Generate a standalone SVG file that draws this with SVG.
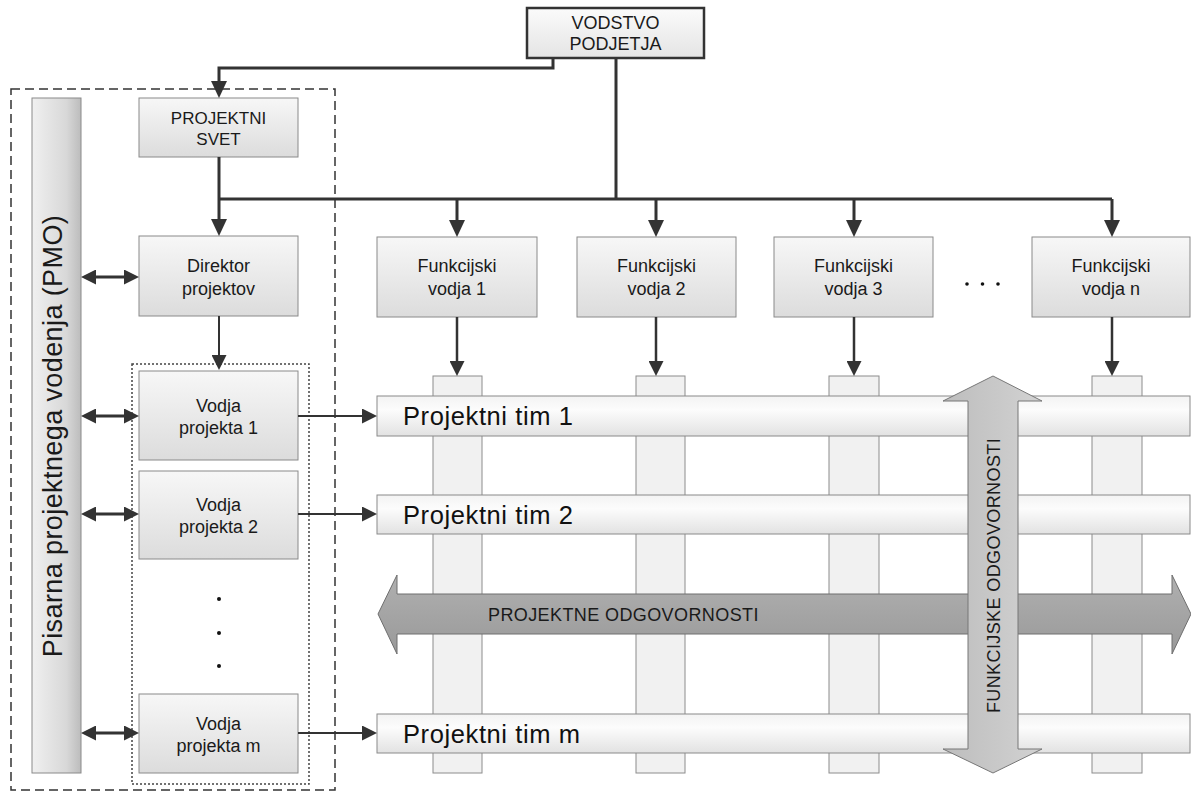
<svg xmlns="http://www.w3.org/2000/svg" width="1191" height="794" viewBox="0 0 1191 794">
  <defs>
    <linearGradient id="gBox" x1="0" y1="0" x2="0" y2="1">
      <stop offset="0" stop-color="#f7f7f7"/>
      <stop offset="1" stop-color="#dcdcdc"/>
    </linearGradient>
    <linearGradient id="gTop" x1="0" y1="0" x2="0" y2="1">
      <stop offset="0" stop-color="#fbfbfb"/>
      <stop offset="1" stop-color="#e4e4e4"/>
    </linearGradient>
    <linearGradient id="gPmo" x1="0" y1="0" x2="1" y2="0">
      <stop offset="0" stop-color="#f0f0f0"/>
      <stop offset="0.7" stop-color="#d8d8d8"/>
      <stop offset="1" stop-color="#bcbcbc"/>
    </linearGradient>
    <linearGradient id="gTeam" x1="0" y1="0" x2="0" y2="1">
      <stop offset="0" stop-color="#f3f3f3"/>
      <stop offset="0.35" stop-color="#fcfcfc"/>
      <stop offset="1" stop-color="#e2e2e2"/>
    </linearGradient>
    <linearGradient id="gProj" x1="0" y1="0" x2="0" y2="1">
      <stop offset="0" stop-color="#b0b0b0"/>
      <stop offset="1" stop-color="#999999"/>
    </linearGradient>
    <linearGradient id="gFunc" x1="0" y1="0" x2="1" y2="0">
      <stop offset="0" stop-color="#bdbdbd"/>
      <stop offset="1" stop-color="#d2d2d2"/>
    </linearGradient>
    <marker id="ahBig" viewBox="0 0 17 16" refX="12" refY="8" markerWidth="17" markerHeight="16" markerUnits="userSpaceOnUse" orient="auto">
      <path d="M0,0 L17,8 L0,16 z" fill="#333"/>
    </marker>
    <marker id="ah" viewBox="0 0 15 15" refX="10" refY="7.5" markerWidth="15" markerHeight="15" markerUnits="userSpaceOnUse" orient="auto-start-reverse">
      <path d="M0,0 L15,7.5 L0,15 z" fill="#333"/>
    </marker>
    <style>
      .box { fill: url(#gBox); stroke: #8a8a8a; stroke-width: 1; }
      .lbl { font-family: "Liberation Sans", Arial, sans-serif; font-size: 18px; fill: #1a1a1a; text-anchor: middle; }
      .team { fill: url(#gTeam); stroke: #8a8a8a; stroke-width: 1; }
      .teamTxt { font-family: "Liberation Sans", Arial, sans-serif; font-size: 25.5px; letter-spacing: 0.6px; fill: #111; }
      .col { fill: #f1f1f1; stroke: #8c8c8c; stroke-width: 1; }
      .thick { fill: none; stroke: #333; stroke-width: 3; }
      .thin { fill: none; stroke: #333; stroke-width: 2.5; }
      .link { fill: none; stroke: #333; stroke-width: 2; }
      .dot { fill: #111; }
    </style>
  </defs>

  <rect width="1191" height="794" fill="#ffffff"/>

  <!-- PMO frame and project manager group -->
  <rect id="pmo-frame" x="11" y="89" width="324" height="701" fill="none" stroke="#333" stroke-width="1.5" stroke-dasharray="9 5"/>
  <rect id="pm-group" x="132" y="364" width="177" height="420" fill="none" stroke="#444" stroke-width="1.5" stroke-dasharray="2 2"/>

  <g id="pmo">
    <rect x="32" y="98" width="49" height="675" fill="url(#gPmo)" stroke="#8a8a8a" stroke-width="1"/>
    <text transform="translate(62,436) rotate(-90)" font-family="'Liberation Sans', Arial, sans-serif" font-size="27" letter-spacing="0.4" fill="#1a1a1a" text-anchor="middle">Pisarna projektnega vodenja (PMO)</text>
  </g>

  <!-- functional columns -->
  <g id="columns">
    <rect class="col" x="433" y="376" width="49" height="397"/>
    <rect class="col" x="636" y="376" width="49" height="397"/>
    <rect class="col" x="829" y="376" width="50" height="397"/>
    <rect class="col" x="1092" y="376" width="50" height="397"/>
  </g>

  <!-- project team bars -->
  <g id="team-1">
    <rect class="team" x="377" y="396" width="813" height="40"/>
    <text class="teamTxt" x="403" y="425">Projektni tim 1</text>
  </g>
  <g id="team-2">
    <rect class="team" x="377" y="495" width="813" height="39"/>
    <text class="teamTxt" x="403" y="524">Projektni tim 2</text>
  </g>
  <g id="team-m">
    <rect class="team" x="377" y="714" width="813" height="39"/>
    <text class="teamTxt" x="403" y="743">Projektni tim m</text>
  </g>

  <!-- horizontal responsibility arrow -->
  <g id="project-responsibility">
    <polygon points="378,614 397,575 397,594 1172,594 1172,575 1191,614 1172,654 1172,634 397,634 397,654" fill="url(#gProj)" stroke="#6e6e6e" stroke-width="1"/>
    <text x="488" y="621" font-family="'Liberation Sans', Arial, sans-serif" font-size="18" letter-spacing="0.4" fill="#1a1a1a">PROJEKTNE ODGOVORNOSTI</text>
  </g>

  <!-- vertical responsibility arrow -->
  <g id="functional-responsibility">
    <polygon points="993,376 1042,401 1018,401 1018,749 1042,749 993,773 943,749 968,749 968,401 943,401" fill="url(#gFunc)" stroke="#777" stroke-width="1"/>
    <text transform="translate(1000,575.5) rotate(-90)" font-family="'Liberation Sans', Arial, sans-serif" font-size="18" letter-spacing="0.4" fill="#1a1a1a" text-anchor="middle">FUNKCIJSKE ODGOVORNOSTI</text>
  </g>

  <!-- nodes -->
  <g id="vodstvo">
    <rect x="527" y="8" width="177" height="50" fill="url(#gTop)" stroke="#333" stroke-width="2.5"/>
    <text class="lbl" x="615.5" y="28.5" font-size="17">VODSTVO</text>
    <text class="lbl" x="615.5" y="50" font-size="17">PODJETJA</text>
  </g>
  <g id="projektni-svet">
    <rect class="box" x="139" y="98" width="159" height="59"/>
    <text class="lbl" x="218.5" y="123.5" style="font-size:17px">PROJEKTNI</text>
    <text class="lbl" x="218.5" y="145" style="font-size:17px">SVET</text>
  </g>
  <g id="direktor">
    <rect class="box" x="139" y="236" width="159" height="80"/>
    <text class="lbl" x="218.5" y="272">Direktor</text>
    <text class="lbl" x="218.5" y="295">projektov</text>
  </g>
  <g id="fv-1">
    <rect class="box" x="377" y="237" width="160" height="80"/>
    <text class="lbl" x="457" y="272">Funkcijski</text>
    <text class="lbl" x="457" y="294.5">vodja 1</text>
  </g>
  <g id="fv-2">
    <rect class="box" x="577" y="237" width="159" height="80"/>
    <text class="lbl" x="656.5" y="272">Funkcijski</text>
    <text class="lbl" x="656.5" y="294.5">vodja 2</text>
  </g>
  <g id="fv-3">
    <rect class="box" x="774" y="237" width="159" height="80"/>
    <text class="lbl" x="853.5" y="272">Funkcijski</text>
    <text class="lbl" x="853.5" y="294.5">vodja 3</text>
  </g>
  <g id="fv-n">
    <rect class="box" x="1032" y="237" width="158" height="80"/>
    <text class="lbl" x="1111" y="272">Funkcijski</text>
    <text class="lbl" x="1111" y="294.5">vodja n</text>
  </g>
  <g id="fv-more">
    <circle class="dot" cx="967" cy="284" r="1.8"/>
    <circle class="dot" cx="982.5" cy="284" r="1.8"/>
    <circle class="dot" cx="998" cy="284" r="1.8"/>
  </g>
  <g id="vp-1">
    <rect class="box" x="139" y="371" width="159" height="89"/>
    <text class="lbl" x="218.5" y="411.5">Vodja</text>
    <text class="lbl" x="218.5" y="434">projekta 1</text>
  </g>
  <g id="vp-2">
    <rect class="box" x="139" y="471" width="159" height="88"/>
    <text class="lbl" x="218.5" y="510.5">Vodja</text>
    <text class="lbl" x="218.5" y="533">projekta 2</text>
  </g>
  <g id="vp-more">
    <circle class="dot" cx="219" cy="599" r="2"/>
    <circle class="dot" cx="219" cy="633" r="2"/>
    <circle class="dot" cx="219" cy="666" r="2"/>
  </g>
  <g id="vp-m">
    <rect class="box" x="139" y="694" width="159" height="79"/>
    <text class="lbl" x="218.5" y="729.5">Vodja</text>
    <text class="lbl" x="218.5" y="752">projekta m</text>
  </g>

  <!-- connectors -->
  <g id="connectors">
    <path class="thick" d="M553,58 V68 H219 V93" marker-end="url(#ahBig)"/>
    <path class="thick" d="M616,58 V199"/>
    <path class="thick" d="M219,199 H1112"/>
    <path class="thick" d="M219,157 V231" marker-end="url(#ahBig)"/>
    <path class="thick" d="M457,199 V232" marker-end="url(#ahBig)"/>
    <path class="thick" d="M656,199 V232" marker-end="url(#ahBig)"/>
    <path class="thick" d="M854,199 V232" marker-end="url(#ahBig)"/>
    <path class="thick" d="M1112,199 V232" marker-end="url(#ahBig)"/>

    <path class="thin" d="M457,317 V371" marker-end="url(#ah)"/>
    <path class="thin" d="M656,317 V371" marker-end="url(#ah)"/>
    <path class="thin" d="M854,317 V371" marker-end="url(#ah)"/>
    <path class="thin" d="M1112,317 V371" marker-end="url(#ah)"/>

    <path class="link" d="M219,316 V365" marker-end="url(#ah)"/>

    <path class="thick" d="M86,277 H134" marker-start="url(#ah)" marker-end="url(#ah)"/>
    <path class="thick" d="M86,416 H134" marker-start="url(#ah)" marker-end="url(#ah)"/>
    <path class="thick" d="M86,514 H134" marker-start="url(#ah)" marker-end="url(#ah)"/>
    <path class="thick" d="M86,733 H134" marker-start="url(#ah)" marker-end="url(#ah)"/>

    <path class="link" d="M298,416 H372" marker-end="url(#ah)"/>
    <path class="link" d="M298,514 H372" marker-end="url(#ah)"/>
    <path class="link" d="M298,733 H372" marker-end="url(#ah)"/>
  </g>
</svg>
